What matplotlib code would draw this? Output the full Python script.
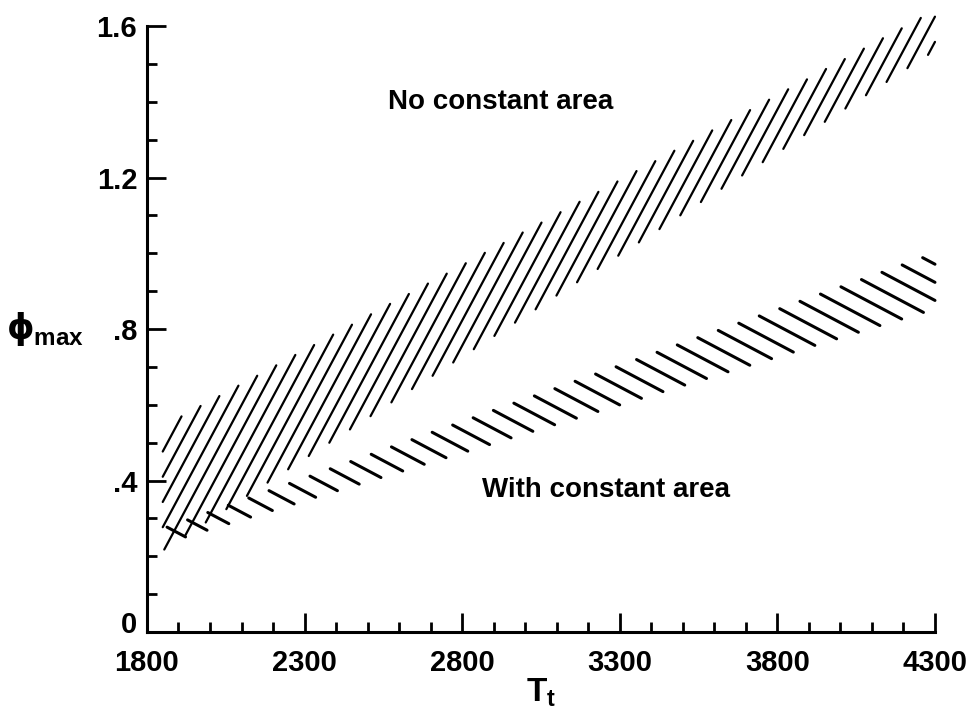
import numpy as np
import matplotlib
matplotlib.use("Agg")
import matplotlib.pyplot as plt
from matplotlib.ticker import MultipleLocator
from matplotlib.transforms import ScaledTranslation

plt.rcParams['font.family'] = ['Liberation Sans', 'DejaVu Sans']
plt.rcParams['font.weight'] = 'bold'
plt.rcParams['mathtext.fontset'] = 'custom'
plt.rcParams['mathtext.rm'] = 'Liberation Sans:bold'
plt.rcParams['mathtext.it'] = 'DejaVu Sans'

# band edges (T_t, phi_max)
no_ca_T = [1850, 3050, 4300]
no_ca_lo = [0.215, 0.861, 1.535]
no_ca_hi = [0.543, 1.081, 1.642]

with_ca_T = [1863, 3050, 4300]
with_ca_lo = [0.236, 0.536, 0.853]
with_ca_hi = [0.277, 0.630, 1.000]

x_ticks = [1800, 2300, 2800, 3300, 3800, 4300]
y_ticks = [0, 0.4, 0.8, 1.2, 1.6]
y_labels = ['0', '.4', '.8', '1.2', '1.6']


def hatch(ax, T, lo, hi, slope, k0, dk, lw):
    # parallel strokes phi = slope*(T-1800) + k, kept inside the band
    tt = np.linspace(T[0], T[-1], 3000)
    low = np.interp(tt, T, lo)
    high = np.interp(tt, T, hi)
    for j in range(-80, 81):
        k = k0 + j * dk
        pp = slope * (tt - 1800) + k
        inside = (pp >= low) & (pp <= high)
        if inside.sum() < 2:
            continue
        idx = np.where(inside)[0]
        ax.plot([tt[idx[0]], tt[idx[-1]]], [pp[idx[0]], pp[idx[-1]]],
                color='black', lw=lw, solid_capstyle='round', clip_on=False)


fig = plt.figure(figsize=(9.72, 7.09), dpi=100)
ax = fig.add_axes([0.1512, 0.1086, 0.8107, 0.8547])

hatch(ax, no_ca_T, no_ca_lo, no_ca_hi, 0.001556, 0.3987, 0.0666, 1.6)
hatch(ax, with_ca_T, with_ca_lo, with_ca_hi, -0.000441, 0.305, 0.0478, 2.2)

ax.set_xlim(1800, 4300)
ax.set_ylim(0, 1.6)
ax.set_xticks(x_ticks)
ax.set_yticks(y_ticks)
ax.set_yticklabels(y_labels)
ax.xaxis.set_minor_locator(MultipleLocator(100))
ax.yaxis.set_minor_locator(MultipleLocator(0.1))

for s in ['top', 'right']:
    ax.spines[s].set_visible(False)
for s in ['left', 'bottom']:
    ax.spines[s].set_linewidth(2.2)

ax.tick_params(which='major', direction='in', length=14, width=2,
               labelsize=21)
ax.tick_params(which='minor', direction='in', length=7, width=2)
ax.tick_params(axis='y', which='major', pad=7)
ax.tick_params(axis='x', which='major', pad=12)

# the zero label sits a little above the axis line
zero = ax.get_yticklabels()[0]
zero.set_transform(zero.get_transform() +
                   ScaledTranslation(0, 7 / 72, fig.dpi_scale_trans))

ax.set_xlabel(r'T$_{\mathrm{t}}$', fontsize=24, fontweight='bold', labelpad=0)
ax.text(-0.08, 0.5, r'$\phi_{\mathrm{max}}$', transform=ax.transAxes,
        ha='right', va='center', fontsize=25)

ax.text(2565, 1.40, 'No constant area', fontsize=20, va='center')
ax.text(2863, 0.375, 'With constant area', fontsize=20, va='center')

fig.savefig('out.png', dpi=100)
